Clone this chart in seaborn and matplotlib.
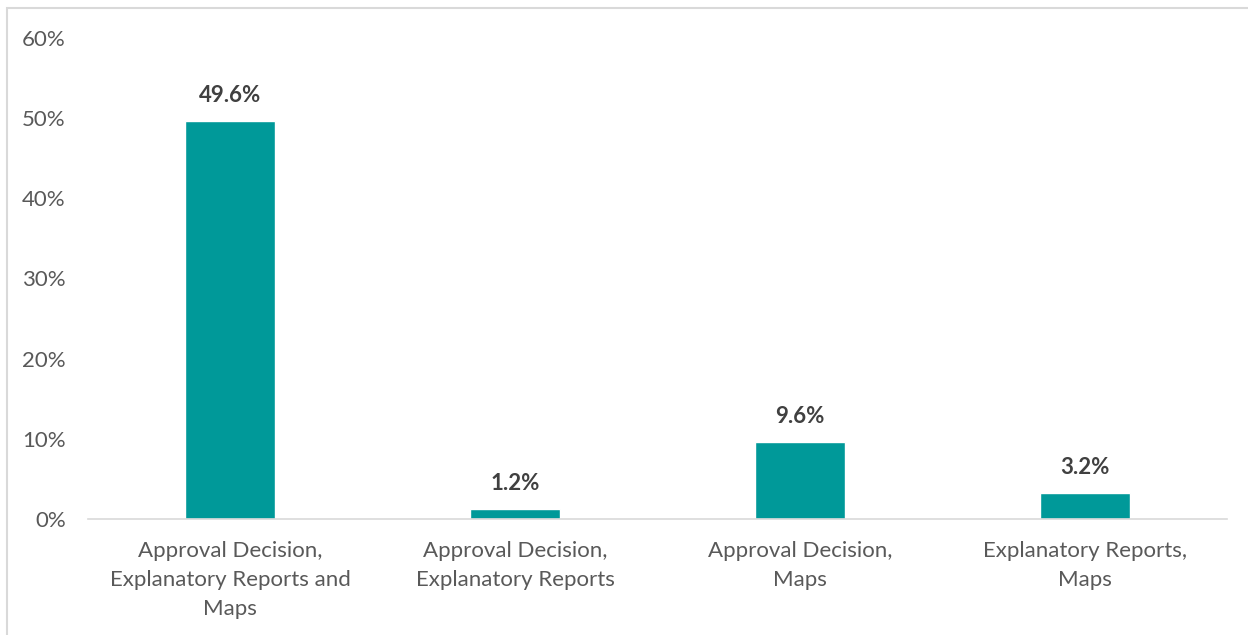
import matplotlib
matplotlib.use("Agg")
import matplotlib.pyplot as plt
import seaborn as sns
import pandas as pd
from matplotlib.patches import Rectangle
from matplotlib.ticker import FuncFormatter

categories = ["Approval Decision,\nExplanatory Reports and\nMaps",
              "Approval Decision,\nExplanatory Reports",
              "Approval Decision,\nMaps",
              "Explanatory Reports,\nMaps"]
values = [49.6, 1.2, 9.6, 3.2]
yticks = [0, 10, 20, 30, 40, 50, 60]

sns.set_theme(style="white")
plt.rcParams['font.family'] = ['Lato', 'DejaVu Sans']

df = pd.DataFrame({"cat": categories, "val": values})
fig = plt.figure(figsize=(12.48, 6.35), dpi=100)
ax = fig.add_axes([88/1248, 1-519/635, (1227-88)/1248, (519-38)/635])
sns.barplot(data=df, x="cat", y="val", color="#009999", width=0.316, ax=ax, saturation=1)
ax.set_xlim(-0.5, 3.5)
ax.set_ylim(0, 60)
ax.set_yticks(yticks)
ax.yaxis.set_major_formatter(FuncFormatter(lambda v, p: f"{v:.0f}%"))
ax.set_xlabel("")
ax.set_ylabel("")
for s in ["top", "right", "left"]:
    ax.spines[s].set_visible(False)
ax.spines["bottom"].set_color("#d9d9d9")
ax.spines["bottom"].set_linewidth(1.2)
ax.tick_params(axis="y", colors="#595959", labelsize=16, length=0, pad=16)
ax.tick_params(axis="x", colors="#595959", labelsize=16, length=0, pad=16)
for lbl in ax.get_xticklabels():
    lbl.set_linespacing(1.55)
for i, v in enumerate(values):
    ax.annotate(f"{v:.1f}%", (i, v), xytext=(0, 11), textcoords="offset points",
                ha="center", va="bottom", fontsize=16, fontweight="bold", color="#404040")
fig.patches.append(Rectangle((7/1248, -0.1), 1.2, 1-8/635+0.1, transform=fig.transFigure,
                             fill=False, edgecolor="#d9d9d9", linewidth=1.5))
fig.savefig("out.png", dpi=100)
